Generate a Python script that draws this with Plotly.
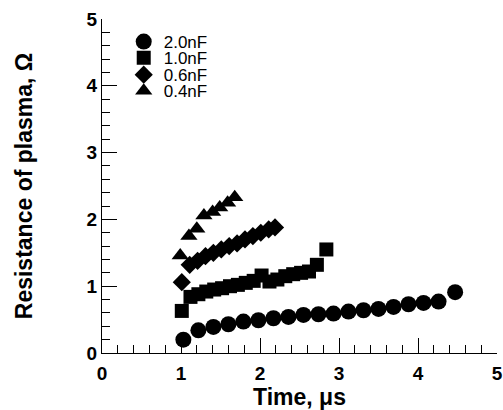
import plotly.graph_objects as go

# 2.0 nF (circles)
t_20 = [1.03, 1.22, 1.41, 1.60, 1.79, 1.98, 2.17, 2.36, 2.55, 2.74, 2.93, 3.12, 3.31, 3.50, 3.69, 3.88, 4.07, 4.26, 4.47]
r_20 = [0.20, 0.34, 0.39, 0.43, 0.47, 0.49, 0.52, 0.54, 0.57, 0.58, 0.59, 0.62, 0.64, 0.66, 0.69, 0.73, 0.75, 0.77, 0.91]

# 1.0 nF (squares)
t_10 = [1.01, 1.12, 1.22, 1.32, 1.42, 1.52, 1.62, 1.72, 1.82, 1.92, 2.02, 2.12, 2.22, 2.32, 2.42, 2.52, 2.62, 2.72, 2.84]
r_10 = [0.63, 0.84, 0.88, 0.92, 0.95, 0.97, 1.00, 1.02, 1.05, 1.08, 1.16, 1.07, 1.10, 1.15, 1.18, 1.20, 1.22, 1.32, 1.55]

# 0.6 nF (diamonds)
t_06 = [1.01, 1.11, 1.21, 1.31, 1.41, 1.51, 1.61, 1.71, 1.81, 1.91, 2.01, 2.11, 2.19]
r_06 = [1.06, 1.32, 1.38, 1.45, 1.50, 1.55, 1.60, 1.64, 1.70, 1.75, 1.80, 1.85, 1.88]

# 0.4 nF (triangles)
t_04 = [0.99, 1.10, 1.20, 1.29, 1.40, 1.49, 1.59, 1.68]
r_04 = [1.46, 1.75, 1.86, 2.06, 2.11, 2.18, 2.25, 2.33]

tick_vals = [0, 1, 2, 3, 4, 5]
tick_text = ["<b>0</b>", "<b>1</b>", "<b>2</b>", "<b>3</b>", "<b>4</b>", "<b>5</b>"]

series = [
    ("2.0nF", t_20, r_20, "circle", 16, "legend"),
    ("1.0nF", t_10, r_10, "square", 14, "legend2"),
    ("0.6nF", t_06, r_06, "diamond", 14, "legend3"),
    ("0.4nF", t_04, r_04, "triangle-up", 15, "legend4"),
]

fig = go.Figure()
for name, t, r, sym, sz, leg in series:
    fig.add_trace(go.Scatter(
        x=t, y=r, mode="markers", name=name, legend=leg,
        marker=dict(symbol=sym, size=sz, color="black", line=dict(width=0)),
    ))

font_fam = "Liberation Sans, Arial, sans-serif"
axis_common = dict(
    showline=True, linecolor="black", linewidth=1,
    showgrid=False, zeroline=False, mirror=False, automargin=False,
    ticks="inside", ticklen=15, tickwidth=1, tickcolor="black",
    tickmode="array", tickvals=tick_vals, ticktext=tick_text,
    tickfont=dict(family=font_fam, size=19, color="black"),
    minor=dict(ticks="inside", ticklen=8, tickwidth=1, tickcolor="black",
               tickmode="linear", tick0=0, dtick=0.2, showgrid=False),
)

fig.update_xaxes(range=[0, 5], ticklabelstandoff=3,
                 title=dict(text="<b>Time, μs</b>", font=dict(family=font_fam, size=23, color="black"), standoff=7),
                 **axis_common)
fig.update_yaxes(range=[0, 5],
                 title=dict(text="<b>Resistance of plasma, Ω</b>", font=dict(family=font_fam, size=23, color="black"), standoff=47),
                 **axis_common)

leg_common = dict(xanchor="left", yanchor="middle", x=0.055,
                  font=dict(family=font_fam, size=17, color="black"),
                  bgcolor="rgba(0,0,0,0)", borderwidth=0, itemsizing="trace")

fig.update_layout(
    width=503, height=410,
    margin=dict(l=102, r=6, t=19, b=57),
    paper_bgcolor="white", plot_bgcolor="white",
    showlegend=True,
    legend=dict(y=0.931, **leg_common),
    legend2=dict(y=0.883, **leg_common),
    legend3=dict(y=0.832, **leg_common),
    legend4=dict(y=0.784, **leg_common),
)

fig.write_html("out.html", config={"displayModeBar": False},
               post_script="document.body.style.margin='0';document.body.style.overflow='hidden';")
